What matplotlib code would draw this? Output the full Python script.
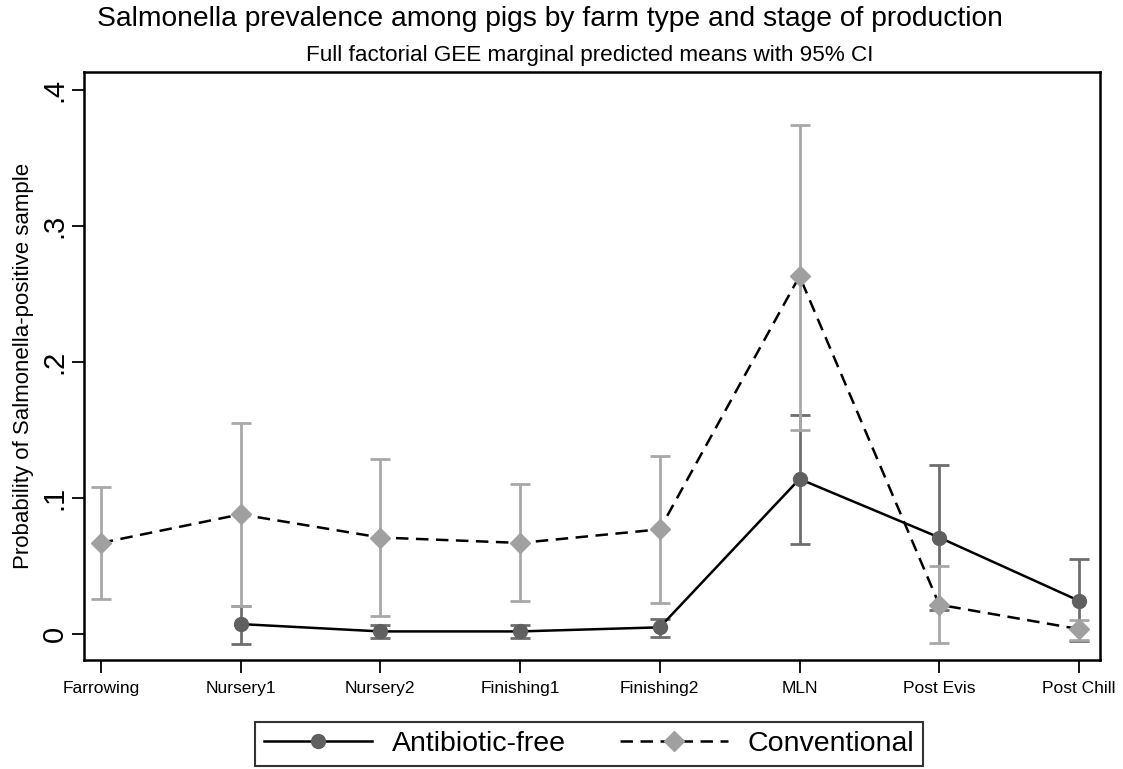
import matplotlib
matplotlib.use("Agg")
import matplotlib.pyplot as plt
import numpy as np
from matplotlib.lines import Line2D

plt.rcParams['font.family'] = ['Liberation Sans', 'DejaVu Sans']

stages = ["Farrowing", "Nursery1", "Nursery2", "Finishing1", "Finishing2",
          "MLN", "Post Evis", "Post Chill"]

af_mean = [np.nan, 0.0074, 0.002, 0.002, 0.005, 0.114, 0.071, 0.0245]
af_lo   = [np.nan, -0.007, -0.003, -0.003, -0.002, 0.066, 0.018, -0.005]
af_hi   = [np.nan, 0.021, 0.007, 0.007, 0.011, 0.161, 0.124, 0.055]

cv_mean = [0.067, 0.088, 0.071, 0.067, 0.077, 0.263, 0.0216, 0.0037]
cv_lo   = [0.026, 0.021, 0.013, 0.024, 0.023, 0.150, -0.0064, -0.0044]
cv_hi   = [0.108, 0.155, 0.129, 0.110, 0.131, 0.374, 0.050, 0.0103]

yticks = [0, 0.1, 0.2, 0.3, 0.4]
ytick_labels = ["0", ".1", ".2", ".3", ".4"]

fig = plt.figure(figsize=(11.23, 7.69), dpi=100)
ax = fig.add_axes([84/1123, 1-660/769, (1100-84)/1123, (660-72)/769])

x = np.arange(len(stages))
af_mean_a = np.array(af_mean); cv_mean_a = np.array(cv_mean)

af_dark = "#606060"
af_ci = "#6e6e6e"
cv_mk = "#a0a0a0"
cv_ci = "#a8a8a8"

ax.errorbar(x, af_mean_a, yerr=[af_mean_a - np.array(af_lo), np.array(af_hi) - af_mean_a],
            fmt='none', ecolor=af_ci, elinewidth=2.0, capsize=7, capthick=2.0, zorder=2)
ax.errorbar(x, cv_mean_a, yerr=[cv_mean_a - np.array(cv_lo), np.array(cv_hi) - cv_mean_a],
            fmt='none', ecolor=cv_ci, elinewidth=2.0, capsize=7, capthick=2.0, zorder=3)

ax.plot(x, af_mean_a, color='black', lw=1.8, zorder=4)
ax.plot(x, cv_mean_a, color='black', lw=1.8, dashes=(5, 3), zorder=4)
ax.plot(x, af_mean_a, 'o', color=af_dark, ms=10, mec=af_dark, zorder=5)
ax.plot(x, cv_mean_a, 'D', color=cv_mk, ms=10.5, mec=cv_mk, zorder=5)

ax.set_xlim(-0.12, 7.15)
ax.set_ylim(-0.019, 0.413)
ax.set_xticks(x)
ax.set_xticklabels(stages, fontsize=12.5)
ax.set_yticks(yticks)
ax.set_yticklabels(ytick_labels, fontsize=21, rotation=90, va='center')
ax.tick_params(axis='both', length=9, width=1.3, color='black')
ax.tick_params(axis='x', pad=6)
ax.tick_params(axis='y', pad=2)
for s in ax.spines.values():
    s.set_linewidth(1.8)

ax.set_ylabel("Probability of Salmonella-positive sample", fontsize=16, labelpad=5)

fig.text(0.490, 1-19/769, "Salmonella prevalence among pigs by farm type and stage of production",
         ha='center', va='center', fontsize=20.3)
fig.text(0.525, 1-55/769, "Full factorial GEE marginal predicted means with 95% CI",
         ha='center', va='center', fontsize=16.2)

handles = [
    Line2D([], [], color='black', lw=1.8, marker='o', mfc=af_dark, mec=af_dark, ms=10),
    Line2D([], [], color='black', lw=1.8, dashes=(5, 3), marker='D', mfc=cv_mk, mec=cv_mk, ms=10.5),
]
leg = fig.legend(handles, ["Antibiotic-free", "Conventional"], loc='center',
                 bbox_to_anchor=(589/1123, 1-744/769), ncol=2, fontsize=20.5,
                 frameon=True, fancybox=False, edgecolor='black', handlelength=3.8,
                 columnspacing=1.9, borderpad=0.3, handletextpad=0.7)
leg.get_frame().set_linewidth(1.5)

fig.savefig("out.png", dpi=100, facecolor='white')
